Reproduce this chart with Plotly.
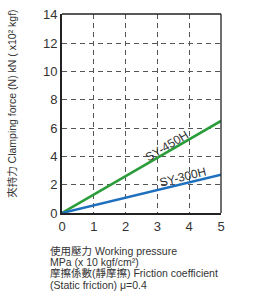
import plotly.graph_objects as go

pressure = [0, 5]
sy450h = [0, 6.5]
sy300h = [0, 2.7]
x_ticks = [0, 1, 2, 3, 4, 5]
y_ticks = [0, 2, 4, 6, 8, 10, 12, 14]

FONT = "Liberation Sans, Noto Sans CJK TC, sans-serif"
TXT = "#333333"

fig = go.Figure()
fig.add_trace(go.Scatter(x=pressure, y=sy450h, mode="lines",
                         line=dict(color="#2a9d3a", width=2.5), showlegend=False,
                         hoverinfo="skip"))
fig.add_trace(go.Scatter(x=pressure, y=sy300h, mode="lines",
                         line=dict(color="#1f6fbf", width=2.5), showlegend=False,
                         hoverinfo="skip"))

fig.add_annotation(x=3.3, y=4.75, text="SY-450H", showarrow=False, textangle=-31,
                   font=dict(family=FONT, size=12, color=TXT))
fig.add_annotation(x=3.8, y=2.55, text="SY-300H", showarrow=False, textangle=-14,
                   font=dict(family=FONT, size=12, color=TXT))

fig.add_annotation(xref="paper", yref="paper", x=(12 - 62) / 159, y=(213 - 100) / 206,
                   text="夾持力 Clamping force (N) kN ( x10² kgf)",
                   textangle=-90, showarrow=False, xanchor="center", yanchor="middle",
                   font=dict(family=FONT, size=10.5, color=TXT))

bottom_lines = ["使用壓力 Working pressure",
                "MPa (x 10 kgf/cm²)",
                "摩擦係數(靜摩擦) Friction coefficient",
                "(Static friction) μ=0.4"]
ys = [252, 263.7, 275.4, 287.1]
for t, yp in zip(bottom_lines, ys):
    fig.add_annotation(xref="paper", yref="paper", x=(49 - 62) / 159,
                       y=(213 - yp) / 206, text=t, showarrow=False,
                       xanchor="left", yanchor="middle", borderpad=0,
                       font=dict(family=FONT, size=10.5, color=TXT))

fig.update_xaxes(range=[0, 5], tickvals=x_ticks, showgrid=True,
                 gridcolor="#555555", griddash="5px,4px", gridwidth=1,
                 showline=True, linecolor="#222222", linewidth=2, mirror=False,
                 zeroline=False, ticks="", tickfont=dict(family=FONT, size=13, color=TXT))
fig.update_yaxes(range=[0, 14.05], tickvals=y_ticks, showgrid=True,
                 gridcolor="#555555", griddash="5px,4px", gridwidth=1,
                 showline=True, linecolor="#222222", linewidth=2, mirror=False,
                 zeroline=False, ticks="", tickfont=dict(family=FONT, size=13, color=TXT))

fig.add_shape(type="line", xref="paper", yref="paper", x0=1, x1=1, y0=0, y1=1,
              line=dict(color="#222222", width=1.3))
fig.add_shape(type="line", xref="paper", yref="paper", x0=0, x1=1, y0=1, y1=1,
              line=dict(color="#222222", width=1.3))

fig.update_layout(width=262, height=307, margin=dict(l=62, r=41, t=7, b=94),
                  plot_bgcolor="white", paper_bgcolor="white", hovermode=False)

fig.write_html("out.html", config={"displayModeBar": False},
               post_script="document.body.style.margin='0';document.body.style.overflow='hidden';")
